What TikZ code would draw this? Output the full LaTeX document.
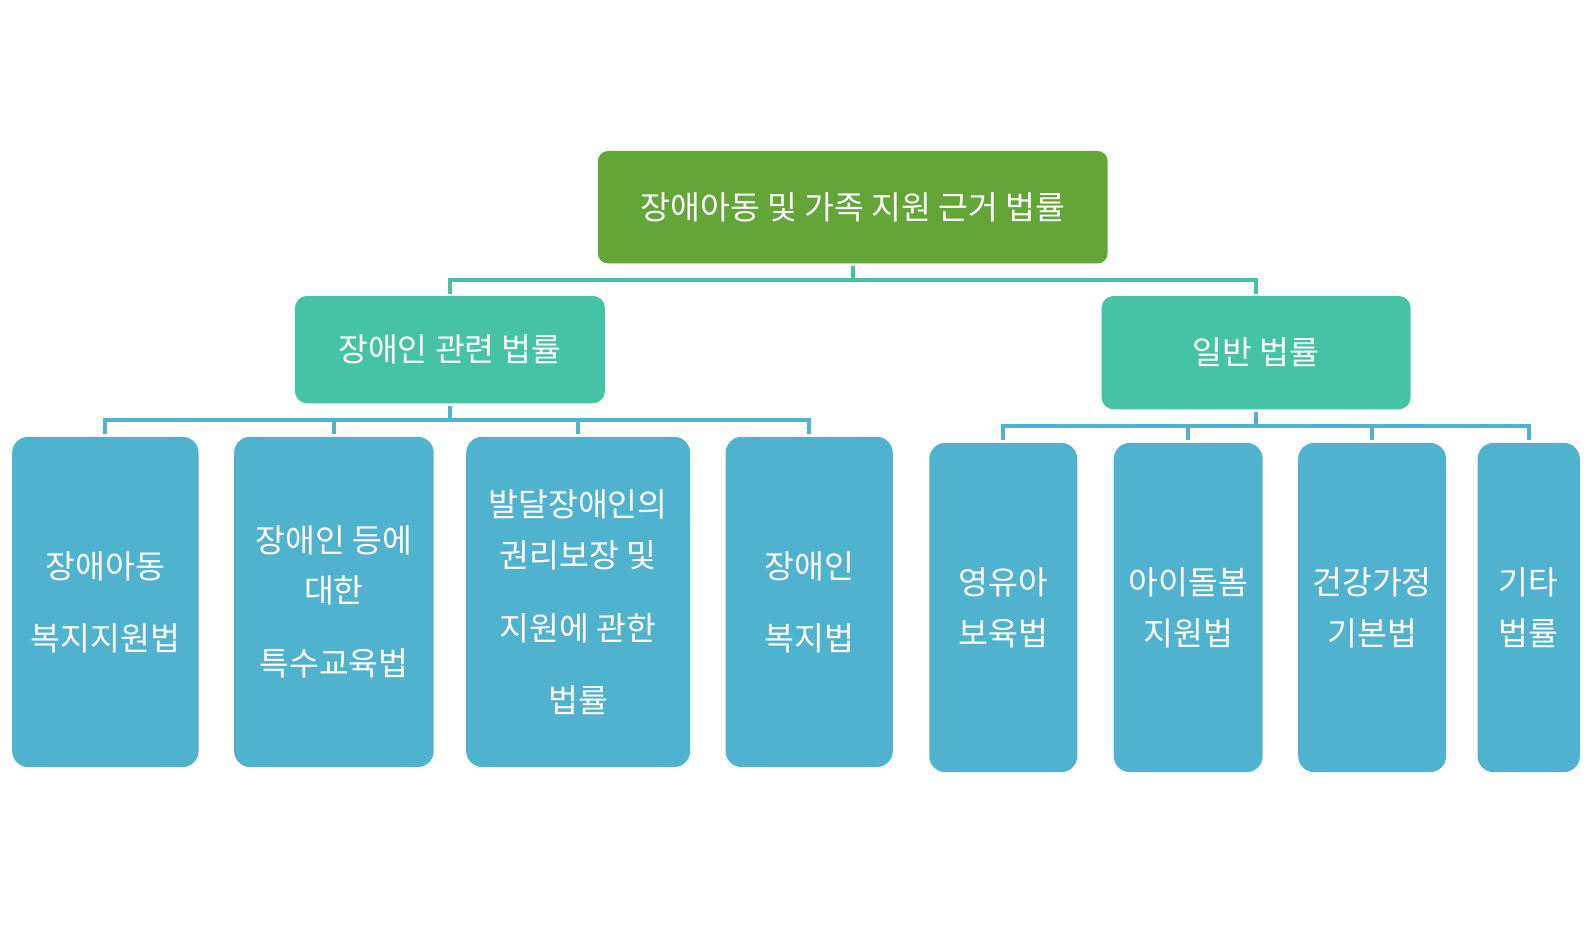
\documentclass[tikz,border=0pt]{standalone}
\usepackage{fontspec}
\setmainfont{Noto Sans CJK KR}
\usetikzlibrary{calc}
\definecolor{topgreen}{RGB}{100,165,55}
\definecolor{midteal}{RGB}{70,194,164}
\definecolor{leafblue}{RGB}{79,178,207}
\tikzset{
  box/.style={rounded corners=#1, inner sep=0pt, text=white, align=center,
    font=\fontsize{32}{50}\selectfont},
  topbox/.style={box=10pt, fill=topgreen},
  midbox/.style={box=12pt, fill=midteal},
  leafbox/.style={box=16pt, fill=leafblue},
  tealline/.style={draw=midteal, line width=4pt, shorten <=2pt, shorten >=2pt},
  blueline/.style={draw=leafblue, line width=4pt, shorten <=2pt, shorten >=3pt},
}
\begin{document}
\begin{tikzpicture}[x=1pt, y=-1pt]
\useasboundingbox (0,0) rectangle (1568,912);
% top
\node[topbox, minimum width=503pt, minimum height=111pt] (top) at (841.5,204.5) {장애아동 및 가족 지원 근거 법률};
% middle
\node[midbox, minimum width=306pt, minimum height=106pt] (midL) at (444,345) {장애인 관련 법률};
\node[midbox, minimum width=305pt, minimum height=112pt] (midR) at (1239.5,348) {일반 법률};
% left leaves
\node[leafbox, minimum width=184pt, minimum height=326pt] (l1) at (104,594) {장애아동\\[21pt]복지지원법};
\node[leafbox, minimum width=197pt, minimum height=326pt] (l2) at (329.5,594) {장애인 등에\\대한\\[22pt]특수교육법};
\node[leafbox, minimum width=221pt, minimum height=326pt] (l3) at (570.5,594) {발달장애인의\\권리보장 및\\[22pt]지원에 관한\\[21pt]법률};
\node[leafbox, minimum width=165pt, minimum height=326pt] (l4) at (798.5,594) {장애인\\[21pt]복지법};
% right leaves
\node[leafbox, minimum width=146pt, minimum height=325pt] (r1) at (990,599.5) {영유아\\보육법};
\node[leafbox, minimum width=147pt, minimum height=325pt] (r2) at (1172.5,599.5) {아이돌봄\\지원법};
\node[leafbox, minimum width=146pt, minimum height=325pt] (r3) at (1354,599.5) {건강가정\\기본법};
\node[leafbox, minimum width=101pt, minimum height=325pt] (r4) at (1508.5,599.5) {기타\\법률};
% connectors
\foreach \c in {midL,midR}
  \draw[tealline] (top.south) -- ++(0,16) -| (\c.north);
\foreach \c in {l1,l2,l3,l4}
  \draw[blueline] (midL.south) -- ++(0,16.5) -| (\c.north);
\foreach \c in {r1,r2,r3,r4}
  \draw[blueline] (midR.south) -- ++(0,16.5) -| (\c.north);
\end{tikzpicture}
\end{document}
